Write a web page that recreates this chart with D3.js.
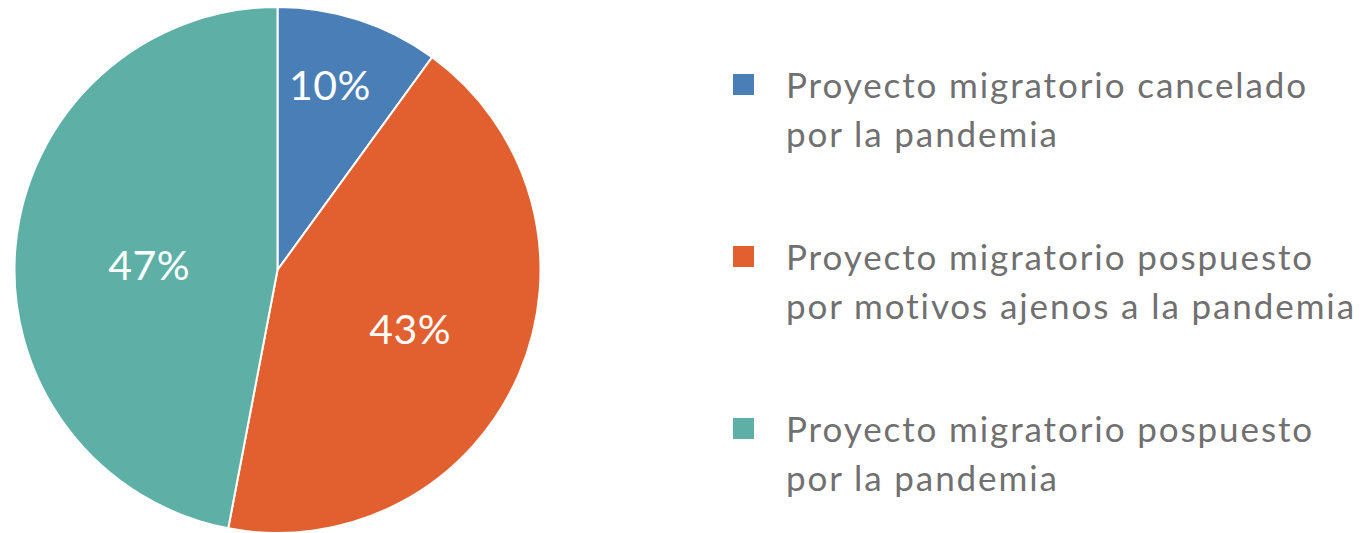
<!DOCTYPE html>
<html>
<head>
<meta charset="utf-8">
<script src="https://cdn.jsdelivr.net/npm/d3@7"></script>
<style>
  body { margin: 0; background: #fff; }
  text { font-family: Lato, "Open Sans", sans-serif; }
</style>
</head>
<body>
<div id="chart"></div>
<script>
// data
const categories = [
  ["Proyecto migratorio cancelado", "por la pandemia"],
  ["Proyecto migratorio pospuesto", "por motivos ajenos a la pandemia"],
  ["Proyecto migratorio pospuesto", "por la pandemia"]
]
const values = [10, 43, 47]
const colors = ["#4a7eb6", "#e2602f", "#5eb0a6"]

const width = 1365, height = 533
const cx = 277.5, cy = 270, radius = 263

const svg = d3.select("#chart")
  .append("svg")
    .attr("width", width)
    .attr("height", height)

const pie = d3.pie().sort(null).value(d => d)
const arcs = pie(values)
const arc = d3.arc().innerRadius(0).outerRadius(radius)

const g = svg.append("g")
  .attr("transform", `translate(${cx}, ${cy})`)

g.selectAll("path")
  .data(arcs)
  .enter()
  .append("path")
    .attr("d", arc)
    .attr("fill", (d, i) => colors[i])
    .attr("stroke", "#fff")
    .attr("stroke-width", 2)

// label placement: fraction of radius + small vertical nudge
const labelR = [0.72, 0.55, 0.49]
const labelNudge = [-5, 2, 7]
g.selectAll("text.lbl")
  .data(arcs)
  .enter()
  .append("text")
    .attr("class", "lbl")
    .attr("transform", (d, i) => {
      const c = d3.arc().innerRadius(radius * labelR[i]).outerRadius(radius * labelR[i]).centroid(d)
      return `translate(${c[0] - (i === 0 ? 6 : 0)}, ${c[1] + labelNudge[i]})`
    })
    .attr("text-anchor", "middle")
    .attr("dy", "0.36em")
    .attr("fill", "#fff")
    .style("font-size", "41px")
    .style("letter-spacing", "0.5px")
    .text(d => d.data + "%")

// legend
const legend = svg.append("g")
  .selectAll("g")
  .data(categories)
  .enter()
  .append("g")
    .attr("transform", (d, i) => `translate(733, ${98 + i * 172})`)

legend.append("rect")
  .attr("x", 0)
  .attr("y", -24)
  .attr("width", 21)
  .attr("height", 21)
  .attr("fill", (d, i) => colors[i])

legend.append("text")
  .attr("x", 53)
  .attr("fill", "#707070")
  .style("font-size", "35px")
  .style("letter-spacing", "1.9px")
  .selectAll("tspan")
  .data(d => d)
  .enter()
  .append("tspan")
    .attr("x", 53)
    .attr("dy", (d, i) => i === 0 ? 0 : 49)
    .text(d => d)
</script>
</body>
</html>
